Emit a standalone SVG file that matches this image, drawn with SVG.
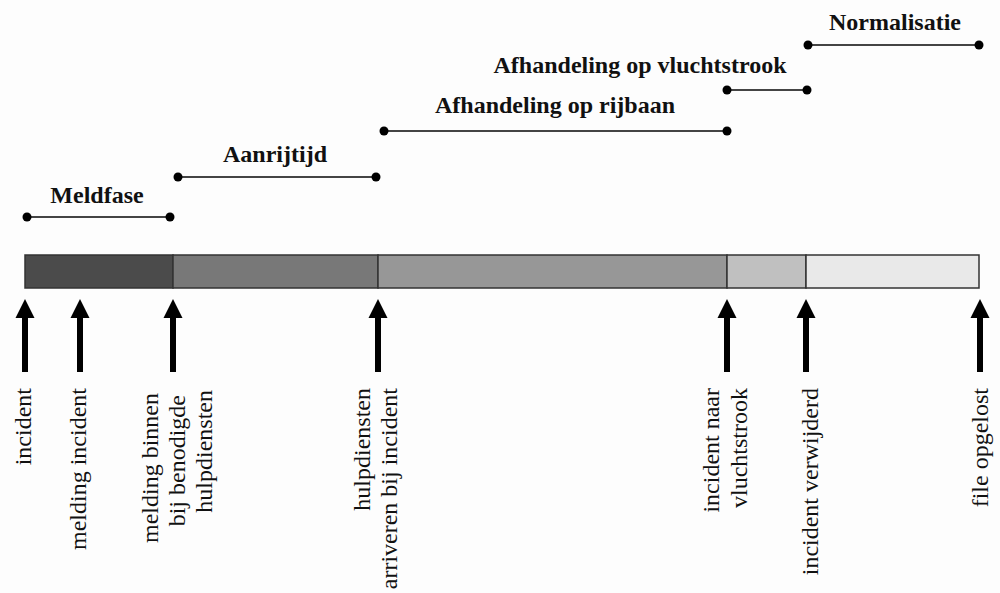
<svg xmlns="http://www.w3.org/2000/svg" width="1000" height="593" viewBox="0 0 1000 593">
<style>
.ph{font-family:"Liberation Serif","Times New Roman",serif;font-weight:bold;font-size:24px;fill:#111;text-anchor:middle}
.ev{font-family:"Liberation Serif","Times New Roman",serif;font-size:24px;fill:#111;text-anchor:end}
.span{stroke:#444;stroke-width:2;fill:none}
.dot{fill:#000}
.seg{stroke:#333;stroke-width:1.5}
.arr{fill:#000}
</style>
<defs>
<path id="arrow" d="M0,299 L9.5,318 L3,318 L3,372 L-3,372 L-3,318 L-9.5,318 Z"/>
</defs>
<rect x="0" y="0" width="1000" height="593" fill="#fdfdfd"/>

<g id="bar">
<rect class="seg" x="25" y="255" width="148" height="33" fill="#4b4b4b"/>
<rect class="seg" x="173" y="255" width="205" height="33" fill="#787878"/>
<rect class="seg" x="378" y="255" width="349" height="33" fill="#979797"/>
<rect class="seg" x="727" y="255" width="79" height="33" fill="#c0c0c0"/>
<rect class="seg" x="806" y="255" width="173" height="33" fill="#e9e9e9"/>
</g>

<g id="connectors">
<line class="span" x1="27" y1="217" x2="170" y2="217"/>
<line class="span" x1="178" y1="177" x2="376" y2="177"/>
<line class="span" x1="384" y1="131" x2="727" y2="131"/>
<line class="span" x1="727" y1="90" x2="807" y2="90"/>
<line class="span" x1="808" y1="45" x2="979" y2="45"/>
</g>

<g id="phase-meldfase">
<circle class="dot" cx="27" cy="217" r="4.5"/><circle class="dot" cx="170" cy="217" r="4.5"/>
<text class="ph" x="97" y="203">Meldfase</text>
</g>
<g id="phase-aanrijtijd">
<circle class="dot" cx="178" cy="177" r="4.5"/><circle class="dot" cx="376" cy="177" r="4.5"/>
<text class="ph" x="275" y="162">Aanrijtijd</text>
</g>
<g id="phase-rijbaan">
<circle class="dot" cx="384" cy="131" r="4.5"/><circle class="dot" cx="727" cy="131" r="4.5"/>
<text class="ph" x="555" y="113">Afhandeling op rijbaan</text>
</g>
<g id="phase-vluchtstrook">
<circle class="dot" cx="727" cy="90" r="4.5"/><circle class="dot" cx="807" cy="90" r="4.5"/>
<text class="ph" x="640" y="73">Afhandeling op vluchtstrook</text>
</g>
<g id="phase-normalisatie">
<circle class="dot" cx="808" cy="45" r="4.5"/><circle class="dot" cx="979" cy="45" r="4.5"/>
<text class="ph" x="895" y="30">Normalisatie</text>
</g>

<g id="event-incident">
<use href="#arrow" x="25" class="arr"/>
<text class="ev" transform="translate(31,388) rotate(-90)">incident</text>
</g>
<g id="event-melding">
<use href="#arrow" x="80" class="arr"/>
<text class="ev" transform="translate(86,388) rotate(-90)">melding incident</text>
</g>
<g id="event-melding-hulpdiensten">
<use href="#arrow" x="173" class="arr"/>
<text class="ev" transform="translate(158,393) rotate(-90)">melding binnen</text>
<text class="ev" transform="translate(185,395) rotate(-90)">bij benodigde</text>
<text class="ev" transform="translate(212,390) rotate(-90)">hulpdiensten</text>
</g>
<g id="event-arriveren">
<use href="#arrow" x="378" class="arr"/>
<text class="ev" transform="translate(370,388) rotate(-90)">hulpdiensten</text>
<text class="ev" transform="translate(397,388) rotate(-90)">arriveren bij incident</text>
</g>
<g id="event-vluchtstrook">
<use href="#arrow" x="727" class="arr"/>
<text class="ev" transform="translate(719,388) rotate(-90)">incident naar</text>
<text class="ev" transform="translate(747,388) rotate(-90)">vluchtstrook</text>
</g>
<g id="event-verwijderd">
<use href="#arrow" x="806" class="arr"/>
<text class="ev" transform="translate(818,388) rotate(-90)">incident verwijderd</text>
</g>
<g id="event-file-opgelost">
<use href="#arrow" x="980" class="arr"/>
<text class="ev" transform="translate(988,388) rotate(-90)">file opgelost</text>
</g>
</svg>
